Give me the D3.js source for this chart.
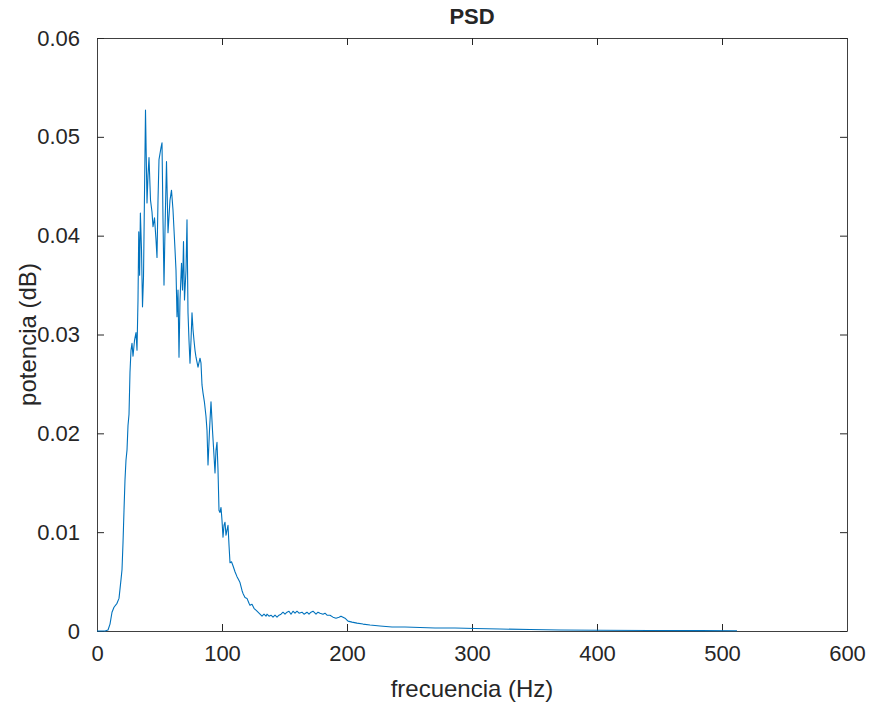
<!DOCTYPE html>
<html>
<head>
<meta charset="utf-8">
<script src="https://cdn.jsdelivr.net/npm/d3@7"></script>
<style>
  body { margin: 0; background: #fff; }
  text { font-family: "Liberation Sans", Arial, Helvetica, sans-serif; fill: #262626; }
</style>
</head>
<body>
<svg id="chart" width="869" height="706"></svg>
<script>
// PSD estimate: frequency (Hz) and power
let freq = [0, 6.4, 8.8, 10.4, 12.0, 13.6, 16.0, 17.6, 19.2, 20.0, 20.8, 21.6, 22.4, 23.2, 24.0, 24.8, 25.6, 26.4, 27.2, 28.0,
  28.8, 30.0, 31.2, 32.0, 32.8, 33.4, 34.1, 34.7, 35.6, 36.4, 37.2, 38.8, 40.0, 40.8, 41.6, 42.8, 44.0, 44.8, 46.0, 47.2,
  48.0, 48.8, 49.6, 51.2, 52.0, 52.8, 53.6, 54.4, 55.6, 56.8, 58.4, 59.6, 60.8, 62.4, 63.2, 64.0, 64.8, 65.6, 66.4, 67.6,
  68.4, 69.2, 70.0, 71.2, 72.0, 72.8, 73.6, 74.4, 75.2, 76.0, 76.8, 77.6, 78.4, 79.2, 80.8, 82.4, 83.2, 84.0, 84.8, 86.0,
  87.2, 88.0, 88.8, 90.0, 91.2, 92.4, 93.2, 94.4, 95.2, 96.0, 96.8, 97.6, 98.4, 99.2, 100.0, 100.8, 101.6, 102.4, 103.2, 104.0,
  104.8, 105.6, 106.4, 107.6, 108.8, 110.4, 112.0, 113.2, 114.4, 116.0, 116.8, 118.4, 120.0, 121.6, 122.4, 124.0, 125.6, 128.0, 130.4, 132.0,
  133.6, 135.2, 136.0, 137.6, 139.2, 140.8, 142.4, 144.0, 145.6, 147.2, 148.8, 150.4, 152.0, 153.6, 155.2, 156.8, 158.4, 160.0, 161.6, 164.0,
  165.6, 168.0, 169.6, 171.2, 172.8, 175.2, 176.8, 178.4, 180.8, 182.4, 184.0, 186.4, 188.8, 191.2, 193.6, 195.2, 196.8, 198.4, 200.8, 204.0,
  208.0, 212.8, 218.4, 226.4, 236.0, 246.4, 258.4, 270.4, 286.4, 302.4, 322.4, 346.4, 370.4, 402.4, 442.4, 482.4, 512];
let power = [0, 0, 0.0001, 0.0007, 0.0019, 0.0024, 0.0028, 0.0033, 0.0052, 0.0062, 0.0089, 0.0122, 0.0153, 0.0173, 0.0183, 0.0208, 0.0219, 0.0262, 0.0284, 0.0291,
  0.0278, 0.0294, 0.0302, 0.0284, 0.0335, 0.0404, 0.0360, 0.0423, 0.0386, 0.0328, 0.0358, 0.0527, 0.0433, 0.0461, 0.0479, 0.0436, 0.0424, 0.0409, 0.0418, 0.0396,
  0.0378, 0.0436, 0.0477, 0.0489, 0.0494, 0.0416, 0.0350, 0.0406, 0.0475, 0.0403, 0.0436, 0.0446, 0.0426, 0.0386, 0.0365, 0.0318, 0.0345, 0.0277, 0.0335, 0.0372,
  0.0345, 0.0394, 0.0335, 0.0365, 0.0416, 0.0322, 0.0294, 0.0271, 0.0294, 0.0322, 0.0305, 0.0294, 0.0284, 0.0277, 0.0267, 0.0276, 0.0271, 0.0249, 0.0241, 0.0231,
  0.0217, 0.0203, 0.0168, 0.0203, 0.0232, 0.0203, 0.0186, 0.0160, 0.0183, 0.0191, 0.0163, 0.0122, 0.0120, 0.0125, 0.0112, 0.0095, 0.0107, 0.0110, 0.0097, 0.0102,
  0.0107, 0.0087, 0.0069, 0.0070, 0.0066, 0.0060, 0.0055, 0.0052, 0.0049, 0.0041, 0.0038, 0.0034, 0.0033, 0.0028, 0.0026, 0.0027, 0.0023, 0.0020, 0.0017, 0.0015,
  0.0017, 0.0015, 0.0017, 0.0015, 0.0016, 0.0014, 0.0016, 0.0014, 0.0016, 0.0017, 0.0019, 0.0017, 0.0019, 0.0020, 0.0017, 0.0020, 0.0018, 0.0020, 0.0018, 0.0019,
  0.0017, 0.0019, 0.0017, 0.0019, 0.0020, 0.0017, 0.0019, 0.0018, 0.0017, 0.0018, 0.0016, 0.0016, 0.0014, 0.0013, 0.0014, 0.0015, 0.0014, 0.0013, 0.0010, 0.0009,
  0.0008, 0.0007, 0.0006, 0.0005, 0.0004, 0.0004, 0.00035, 0.0003, 0.0003, 0.00025, 0.0002, 0.00015, 0.0001, 0.00007, 0.00005, 0.00004, 0.00003];

let xTicks = [0, 100, 200, 300, 400, 500, 600];
let yTicks = [0, 0.01, 0.02, 0.03, 0.04, 0.05, 0.06];

let mLeft = 97, mRight = 847, mTop = 38, mBottom = 631;
let svg = d3.select('#chart');
let x = d3.scaleLinear().domain([0, 600]).range([mLeft, mRight]);
let y = d3.scaleLinear().domain([0, 0.06]).range([mBottom, mTop]);
let fmtY = function(d) { return d === 0 ? '0' : d3.format('.2f')(d); };
let tickLen = 7;
let axisColor = '#262626';

function styleAxis(g) {
    g.selectAll('path, line').attr('stroke', axisColor).attr('stroke-width', 1);
    g.selectAll('text').attr('fill', axisColor).style('font-size', '22px')
        .style('font-family', '"Liberation Sans", Arial, sans-serif');
}

// bottom + top
svg.append('g').attr('transform', 'translate(0,' + mBottom + ')')
    .call(d3.axisBottom(x).tickValues(xTicks).tickSizeInner(-tickLen).tickSizeOuter(0).tickPadding(14).tickFormat(d3.format('d')))
    .call(styleAxis);
svg.append('g').attr('transform', 'translate(0,' + mTop + ')')
    .call(d3.axisTop(x).tickValues(xTicks).tickSizeInner(-tickLen).tickSizeOuter(0).tickFormat(''))
    .call(styleAxis);
// left + right
svg.append('g').attr('transform', 'translate(' + mLeft + ',0)')
    .call(d3.axisLeft(y).tickValues(yTicks).tickSizeInner(-tickLen).tickSizeOuter(0).tickPadding(17).tickFormat(fmtY))
    .call(styleAxis);
svg.append('g').attr('transform', 'translate(' + mRight + ',0)')
    .call(d3.axisRight(y).tickValues(yTicks).tickSizeInner(-tickLen).tickSizeOuter(0).tickFormat(''))
    .call(styleAxis);

svg.selectAll('.domain').attr('stroke', '#404040');

let data = freq.map(function(f, i) { return { f: f, p: power[i] }; });
let line = d3.line()
    .x(function(d) { return x(d.f); })
    .y(function(d) { return y(d.p); });

svg.append('path')
    .datum(data)
    .attr('fill', 'none')
    .attr('stroke', '#0072BD')
    .attr('stroke-width', 1.1)
    .attr('stroke-linejoin', 'round')
    .attr('d', line);

svg.append('text')
    .attr('x', (mLeft + mRight) / 2).attr('y', 24)
    .attr('text-anchor', 'middle')
    .style('font-size', '22px').style('font-weight', 'bold')
    .text('PSD');

svg.append('text')
    .attr('x', (mLeft + mRight) / 2).attr('y', 697)
    .attr('text-anchor', 'middle')
    .style('font-size', '24px')
    .text('frecuencia (Hz)');

svg.append('text')
    .attr('transform', 'translate(36,' + (mTop + mBottom) / 2 + ') rotate(-90)')
    .attr('text-anchor', 'middle')
    .style('font-size', '24px')
    .text('potencia (dB)');
</script>
</body>
</html>
